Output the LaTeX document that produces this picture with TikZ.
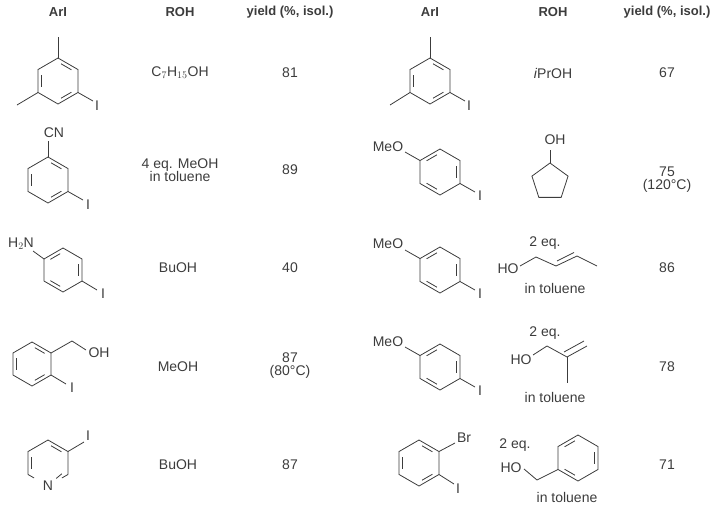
\documentclass[tikz,border=0pt]{standalone}
\usepackage{fontspec}
\setmainfont{Liberation Sans}
\usetikzlibrary{calc}
\begin{document}
\begin{tikzpicture}[x=1pt,y=-1pt,
  every node/.style={text=ink,font=\fontsize{14}{15}\selectfont,inner sep=0pt,align=center},
  hd/.style={font=\bfseries\fontsize{13}{15}\selectfont},
  bond/.style={draw=ink,line width=0.8pt}]
\definecolor{ink}{RGB}{60,60,60}
\useasboundingbox (0,0) rectangle (720,509);
\newcommand\hexr[4]{%
  \draw[bond,shift={(#1,#2)}] (90:#3) -- (150:#3) -- (210:#3) -- (270:#3) -- (330:#3) -- (30:#3) -- cycle;
  \foreach \a in {#4}{\draw[bond,shift={(#1,#2)}] ({\a+10}:{(0.866*#3-3.5)/0.9397}) -- ({\a+50}:{(0.866*#3-3.5)/0.9397});}}
% headers
\node[hd] (h1) at (58,12) {ArI};
\node[hd] (h2) at (180,12) {ROH};
\node[hd] (h3) at (290,12) {yield (\%, isol.)};
\node[hd] (h4) at (430,12) {ArI};
\node[hd] (h5) at (553,12) {ROH};
\node[hd] (h6) at (667,12) {yield (\%, isol.)};
% row1 left
\hexr{58}{81}{23}{150,30,270}
\draw[bond] (58,58) -- (58,37);
\draw[bond] (38,92.5) -- (17,105);
\draw[bond] (78,92.5) -- (93,101);
\node (i1) at (97,106) {I};
\node (r1) at (180,73) {C$_7$H$_{15}$OH};
\node (y1) at (290,73) {81};
% row2 left
\hexr{48}{180}{23}{150,30,270}
\draw[bond] (48,157) -- (48,141);
\node (cn) at (54,133) {CN};
\draw[bond] (68,191.5) -- (83,200);
\node (i2) at (88,205) {I};
\node (r2) at (180,170) {4 eq. MeOH\\[-2pt]in toluene};
\node (y2) at (290,170) {89};
% row3 left
\hexr{63}{270}{22}{330,210,90}
\draw[bond] (44,259) -- (33,251);
\node (nh) at (21,244) {H$_2$N};
\draw[bond] (82,281) -- (97,290);
\node (i3) at (103,294) {I};
\node (r3) at (178,268) {BuOH};
\node (y3) at (290,268) {40};
% row4 left
\hexr{32}{364}{22}{150,30,270}
\draw[bond] (51,353) -- (72,341) -- (86,350);
\node (oh4) at (99,353) {OH};
\draw[bond] (51,375) -- (66,384);
\node (i4) at (72,388) {I};
\node (r4) at (178,367) {MeOH};
\node (y4) at (290,366) {87\\[-2pt](80°C)};
% row5 left: pyridine
\begin{scope}[shift={(48,463)}]
\draw[bond] (150:23) -- (210:23) -- (270:23) -- (330:23) -- (30:23);
\draw[bond] ($(30:23)!0.3!(90:23)$) -- (30:23);
\draw[bond] ($(150:23)!0.3!(90:23)$) -- (150:23);
\node (n5) at (90:23) {N};
\foreach \a in {150,270}{\draw[bond] ({\a+10}:17.5) -- ({\a+50}:17.5);}
\draw[bond] (38:17.5) -- (62:17.5);
\end{scope}
\draw[bond] (68,451.5) -- (84,442);
\node (i5) at (88,436) {I};
\node (r5) at (178,465) {BuOH};
\node (y5) at (290,465) {87};
% row1 right
\hexr{430}{81}{23}{150,30,270}
\draw[bond] (430,58) -- (430,37);
\draw[bond] (410,92.5) -- (390,105);
\draw[bond] (450,92.5) -- (465,101);
\node (i6) at (469,106) {I};
\node (r6) at (553,73) {\textit{i}PrOH};
\node (y6) at (667,73) {67};
% row2 right
\hexr{440}{172}{23}{330,210,90}
\draw[bond] (420,160.5) -- (405,152);
\node (me7) at (388,147) {MeO};
\draw[bond] (460,183.5) -- (475,192);
\node (i7) at (480,196) {I};
\draw[bond,shift={(550,182)}] (-90:19) -- (-18:19) -- (54:19) -- (126:19) -- (198:19) -- cycle;
\draw[bond] (550,163) -- (550,150);
\node (oh7) at (555,140) {OH};
\node (y7) at (667,180) {75\\[-2pt](120°C)};
% row3 right
\hexr{440}{270}{23}{330,210,90}
\draw[bond] (420,258.5) -- (405,250);
\node (me8) at (388,244) {MeO};
\draw[bond] (460,281.5) -- (475,290);
\node (i8) at (480,294) {I};
\node (eq8) at (545,243) {2 eq.};
\node (ho8) at (508,269) {HO};
\draw[bond] (520,266) -- (536,257) -- (556,266) -- (577,256) -- (597,266);
\draw[bond] (557,261) -- (574,252.5);
\node (t8) at (555,288) {in toluene};
\node (y8) at (667,268) {86};
% row4 right
\hexr{440}{367}{23}{330,210,90}
\draw[bond] (420,355.5) -- (405,347);
\node (me9) at (388,342) {MeO};
\draw[bond] (460,378.5) -- (475,387);
\node (i9) at (480,391) {I};
\node (eq9) at (545,333) {2 eq.};
\node (ho9) at (521,360) {HO};
\draw[bond] (533,355) -- (547,346) -- (567,357) -- (587,346);
\draw[bond] (564,352) -- (584,341);
\draw[bond] (567,357) -- (567,383);
\node (t9) at (555,397) {in toluene};
\node (y9) at (667,367) {78};
% row5 right
\hexr{419}{463}{23}{150,30,270}
\draw[bond] (439,451.5) -- (455,443);
\node (br) at (464,438) {Br};
\draw[bond] (439,474.5) -- (454,484);
\node (i10) at (458,489) {I};
\node (eq10) at (515,445) {2 eq.};
\node (ho10) at (511,468) {HO};
\draw[bond] (524,469) -- (537,480) -- (558,469.5);
\hexr{578}{458}{23}{330,210,90}
\node (t10) at (567,497) {in toluene};
\node (y10) at (667,465) {71};
\end{tikzpicture}
\end{document}
